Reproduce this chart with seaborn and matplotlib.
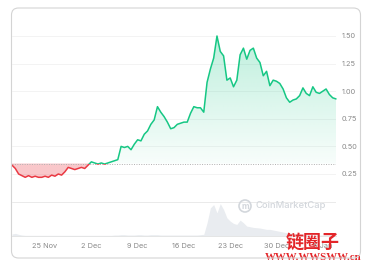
import numpy as np
import pandas as pd
import matplotlib
matplotlib.use("Agg")
import matplotlib.pyplot as plt
import matplotlib.dates as mdates
from matplotlib.patches import FancyBboxPatch, Rectangle, Circle
from matplotlib.path import Path
import seaborn as sns

# ---------------- data ----------------
start_date = "2024-11-20"
price = [0.33, 0.30, 0.25, 0.235, 0.22, 0.235, 0.22, 0.23, 0.22, 0.22,
         0.23, 0.22, 0.24, 0.23, 0.25, 0.24, 0.27, 0.31, 0.30, 0.29,
         0.30, 0.31, 0.30, 0.33, 0.36, 0.35, 0.34, 0.35, 0.34, 0.35,
         0.36, 0.37, 0.38, 0.50, 0.49, 0.50, 0.47, 0.52, 0.56, 0.55,
         0.61, 0.64, 0.70, 0.74, 0.86, 0.81, 0.77, 0.72, 0.66, 0.67,
         0.70, 0.71, 0.72, 0.72, 0.80, 0.86, 0.85, 0.85, 0.81, 1.08,
         1.20, 1.30, 1.50, 1.36, 1.32, 1.10, 1.12, 1.04, 1.10, 1.33,
         1.39, 1.29, 1.37, 1.39, 1.30, 1.26, 1.14, 1.18, 1.05, 1.10,
         1.09, 1.07, 1.02, 0.94, 0.90, 0.92, 0.93, 0.96, 1.03, 0.98,
         0.96, 1.04, 0.99, 0.98, 1.00, 1.02, 0.97, 0.94, 0.93]
volume = [6, 8, 5, 3, 2, 2, 2, 2, 2, 2,
          2, 2, 2, 2, 2, 2, 2, 2, 2, 2,
          2, 2, 2, 2, 2, 2, 2, 2, 2, 2,
          2, 3, 3, 4, 4, 3, 3, 3, 4, 4,
          3, 3, 4, 4, 4, 3, 3, 3, 3, 3,
          3, 3, 3, 3, 3, 3, 3, 4, 5, 40,
          85, 95, 70, 98, 80, 55, 45, 38, 35, 48,
          40, 30, 28, 26, 25, 24, 22, 20, 20, 18,
          16, 14, 12, 10, 10, 8, 7, 6, 5, 4,
          4, 3, 3, 3, 3, 3, 3, 3, 3]
open_price = 0.345
tick_dates = ["2024-11-25", "2024-12-02", "2024-12-09", "2024-12-16",
              "2024-12-23", "2024-12-30", "2025-01-06"]
tick_labels = ["25 Nov", "2 Dec", "9 Dec", "16 Dec", "23 Dec", "30 Dec", "6 Jan"]
y_ticks = [0.25, 0.50, 0.75, 1.00, 1.25, 1.50]
y_tick_labels = ["0.25", "0.50", "0.75", "1.00", "1.25", "1.50"]

# ---------------- style ----------------
sns.set_theme(style="white")
plt.rcParams['font.family'] = ['Inter', 'DejaVu Sans']

W, H = 375, 266
fig = plt.figure(figsize=(W / 100, H / 100), dpi=100)
fig.patch.set_facecolor("white")

card = FancyBboxPatch((11.5, H - 258), 349, 250,
                      boxstyle="round,pad=0,rounding_size=7",
                      transform=None, fc="none", ec="#d4d4d4", lw=0.8, zorder=5)
fig.patches.append(card)

dates = pd.date_range(start_date, periods=len(price), freq="12h")
xs = mdates.date2num(dates)
p = np.array(price)
v = np.array(volume)

ax_left, ax_w = 12 / W, 324 / W
bottom = (H - 236) / H

# volume axes
ax_v = fig.add_axes([ax_left, bottom, ax_w, 34.4 / H])
ax_v.fill_between(xs, v, 0, color="#e9ecf0", lw=0)
ax_v.set_xlim(xs[0], xs[-1])
ax_v.set_ylim(0, 104)
ax_v.axis("off")

# price axes
ax = fig.add_axes([ax_left, bottom, ax_w, 222 / H])
ax.patch.set_alpha(0)

y_lo = (201.6 - 236) / 110.4
y_hi = (201.6 - 14) / 110.4

# red fill below open
ax.fill_between(xs, p, open_price, where=p < open_price, interpolate=True,
                color="#ea3943", alpha=0.28, lw=0, zorder=1)

# green gradient fill above open
poly = ax.fill_between(xs, p, open_price, where=p >= open_price, interpolate=True,
                       facecolor="none", edgecolor="none", zorder=1)
img = np.zeros((256, 1, 4))
img[..., 0] = 22 / 255
img[..., 1] = 199 / 255
img[..., 2] = 132 / 255
img[:, 0, 3] = np.linspace(0.28, 0.03, 256)
im = ax.imshow(img, extent=[xs[0], xs[-1], open_price, p.max()],
               aspect="auto", origin="upper", zorder=1)
clip = Path.make_compound_path(*poly.get_paths())
im.set_clip_path(clip, ax.transData)

# price line (green above open, red below)
sns.lineplot(x=xs, y=p, ax=ax, color="#16c784", lw=1.1, zorder=3)
gline = ax.lines[-1]
sns.lineplot(x=xs, y=p, ax=ax, color="#ea3943", lw=1.1, zorder=3)
rline = ax.lines[-1]
gline.set_clip_path(Rectangle((xs[0] - 5, open_price), 100, 10, transform=ax.transData))
rline.set_clip_path(Rectangle((xs[0] - 5, open_price - 10), 100, 10, transform=ax.transData))

ax.axhline(open_price, color="#b0b0b0", lw=0.7, ls=(0, (1, 1.5)), zorder=2)
ax.axhline(0, color="#e6e6e6", lw=0.6, zorder=0)

ax.set_xlim(xs[0], xs[-1])
ax.set_ylim(y_lo, y_hi)
ax.set_yticks(y_ticks)
ax.set_yticklabels(y_tick_labels)
ax.yaxis.tick_right()
ax.grid(axis="y", color="#f1f1f1", lw=0.6)
ax.grid(axis="x", visible=False)
ax.set_xticks(mdates.date2num(pd.to_datetime(tick_dates)))
ax.set_xticklabels(tick_labels)
ax.tick_params(axis="both", length=0, labelsize=5.3, colors="#8a8a8a")
ax.tick_params(axis="y", pad=4)
ax.tick_params(axis="x", pad=5)
ax.set_xlabel("")
ax.set_ylabel("")
for s in ["top", "left", "right"]:
    ax.spines[s].set_visible(False)
ax.spines["bottom"].set_color("#e2e2e2")
ax.spines["bottom"].set_linewidth(0.6)

# CoinMarketCap watermark
fig.patches.append(Circle((245, H - 206), 6, transform=None, fill=False,
                          ec="#d3d7dc", lw=1.2))
fig.text(245 / W, 1 - 206.5 / H, "m", fontsize=6, color="#d3d7dc",
         ha="center", va="center", fontweight="bold")
fig.text(256 / W, 1 - 206 / H, "CoinMarketCap", fontsize=6.8, color="#d3d7dc",
         ha="left", va="center", fontweight="medium")

# site watermark
fig.text(313 / W, 1 - 242 / H, "链圈子", fontsize=13, fontweight="bold",
         color="#e3262a", ha="center", va="center",
         family=["Noto Sans CJK SC", "DejaVu Sans"])
fig.text(313 / W, 1 - 257 / H, "WWW.WWSWW.cn", fontsize=7.8, fontweight="bold",
         color="#e3262a", ha="center", va="center",
         family=["Liberation Serif", "DejaVu Serif"])

fig.savefig("out.png", dpi=100)
